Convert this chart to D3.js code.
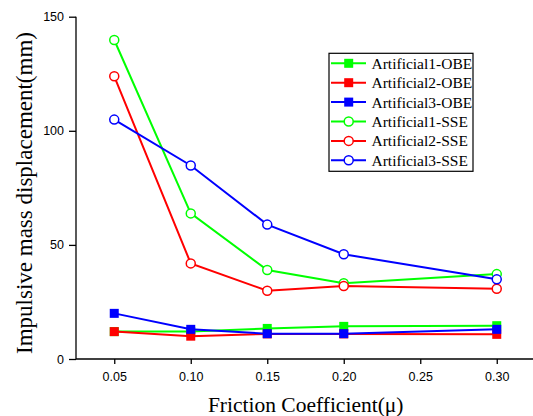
<!DOCTYPE html>
<html>
<head>
<meta charset="utf-8">
<script src="https://cdn.jsdelivr.net/npm/d3@7"></script>
<style>
  html, body { margin: 0; padding: 0; background: #fff; }
  svg { display: block; }
</style>
</head>
<body>
<svg id="chart" width="533" height="416"></svg>
<script>
// Friction coefficients along the x axis
const friction = [0.05, 0.10, 0.15, 0.20, 0.30];

// Impulsive mass displacement (mm) per earthquake record
const art1OBE = [12, 12, 13.4, 14.3, 14.6];
const art2OBE = [12, 10, 11, 11, 10.8];
const art3OBE = [20, 13, 11.1, 11.1, 13];
const art1SSE = [139.8, 63.8, 39, 33.2, 37.2];
const art2SSE = [123.9, 41.9, 29.9, 32, 30.8];
const art3SSE = [104.9, 84.8, 58.9, 45.9, 34.9];

const seriesNames = ["Artificial1-OBE", "Artificial2-OBE", "Artificial3-OBE",
                     "Artificial1-SSE", "Artificial2-SSE", "Artificial3-SSE"];

const xTicks = [0.05, 0.10, 0.15, 0.20, 0.25, 0.30];
const xMinorTicks = [0.025, 0.075, 0.125, 0.175, 0.225, 0.275, 0.325];
const yTicks = [0, 50, 100, 150];
const yMinorTicks = [25, 75, 125];

const green = "#00ff00", red = "#ff0000", blue = "#0000ff";
const series = [
  { name: seriesNames[0], values: art1OBE, color: green, shape: "square" },
  { name: seriesNames[1], values: art2OBE, color: red, shape: "square" },
  { name: seriesNames[2], values: art3OBE, color: blue, shape: "square" },
  { name: seriesNames[3], values: art1SSE, color: green, shape: "circle" },
  { name: seriesNames[4], values: art2SSE, color: red, shape: "circle" },
  { name: seriesNames[5], values: art3SSE, color: blue, shape: "circle" }
];

const svg = d3.select("#chart");
const plotLeft = 76, plotBottom = 359, plotTop = 16.7;

const x = d3.scaleLinear().domain([0.025, 0.325]).range([plotLeft, plotLeft + 459]);
const y = d3.scaleLinear().domain([0, 150]).range([plotBottom, plotTop]);

const axisFont = "'Liberation Sans', Arial, sans-serif";
const serif = "'Liberation Serif', 'Times New Roman', serif";

// X axis: major and minor ticks
const gx = svg.append("g").attr("transform", `translate(0,${plotBottom})`);
gx.call(d3.axisBottom(x).tickValues(xMinorTicks).tickSize(3).tickFormat(""))
  .call(g => g.select(".domain").remove());
gx.call(d3.axisBottom(x).tickValues(xTicks).tickSize(5).tickPadding(8).tickFormat(d3.format(".2f")))
  .call(g => g.select(".domain").remove());
gx.append("line").attr("x1", plotLeft).attr("x2", 533).attr("y1", 0).attr("y2", 0)
  .attr("stroke", "#000").attr("stroke-width", 1.5);
gx.selectAll("line").attr("stroke", "#000").attr("stroke-width", 1.3);
gx.selectAll("text").attr("font-family", axisFont).attr("font-size", 12.5).attr("fill", "#000");

// Y axis: major and minor ticks
const gy = svg.append("g").attr("transform", `translate(${plotLeft},0)`);
gy.call(d3.axisLeft(y).tickValues(yMinorTicks).tickSize(4).tickFormat(""))
  .call(g => g.select(".domain").remove());
gy.call(d3.axisLeft(y).tickValues(yTicks).tickSize(7).tickPadding(5))
  .call(g => g.select(".domain").remove());
gy.append("line").attr("x1", 0).attr("x2", 0).attr("y1", plotTop).attr("y2", plotBottom)
  .attr("stroke", "#000").attr("stroke-width", 1.5);
gy.selectAll("line").attr("stroke", "#000").attr("stroke-width", 1.3);
gy.selectAll("text").attr("font-family", axisFont).attr("font-size", 12.5).attr("fill", "#000");

// Axis titles
svg.append("text")
  .attr("x", 305.7).attr("y", 412)
  .attr("text-anchor", "middle")
  .attr("font-family", serif).attr("font-size", 21.5)
  .text("Friction Coefficient(\u03bc)");

svg.append("text")
  .attr("transform", "translate(31.5,193) rotate(-90)")
  .attr("text-anchor", "middle")
  .attr("font-family", serif).attr("font-size", 23)
  .text("Impulsive mass displacement(mm)");

// Lines and markers
const line = d3.line().x((d, i) => x(friction[i])).y(d => y(d));

function drawMarker(g, shape, color, cx, cy) {
  if (shape === "square") {
    g.append("rect").attr("x", cx - 4.5).attr("y", cy - 4.5)
      .attr("width", 9).attr("height", 9).attr("fill", color);
  } else {
    g.append("circle").attr("cx", cx).attr("cy", cy).attr("r", 4.5)
      .attr("fill", "#fff").attr("stroke", color).attr("stroke-width", 1.5);
  }
}

const plot = svg.append("g");
series.forEach(s => {
  const g = plot.append("g");
  g.append("path").datum(s.values)
    .attr("d", line).attr("fill", "none")
    .attr("stroke", s.color).attr("stroke-width", 2);
  s.values.forEach((v, i) => drawMarker(g, s.shape, s.color, x(friction[i]), y(v)));
});

// Legend
const legend = svg.append("g");
const lx = 329, ly = 53.3, lw = 144, rowH = 19.4;
legend.append("rect").attr("x", lx).attr("y", ly).attr("width", lw).attr("height", 118)
  .attr("fill", "#fff").attr("stroke", "#000").attr("stroke-width", 1.2);
series.forEach((s, i) => {
  const cy = ly + 10 + i * rowH;
  const g = legend.append("g");
  g.append("line").attr("x1", lx + 2).attr("x2", lx + 37).attr("y1", cy).attr("y2", cy)
    .attr("stroke", s.color).attr("stroke-width", 2);
  drawMarker(g, s.shape, s.color, lx + 19.7, cy);
  g.append("text").attr("x", lx + 42.5).attr("y", cy + 5.5)
    .attr("font-family", serif).attr("font-size", 15.5)
    .text(s.name);
});
</script>
</body>
</html>
